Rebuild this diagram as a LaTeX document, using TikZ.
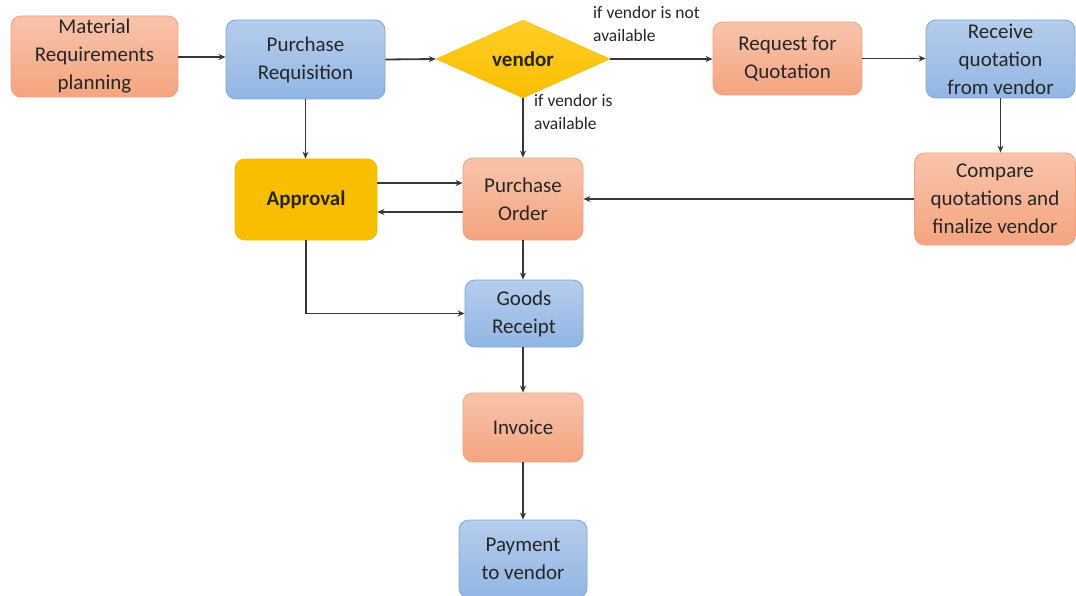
\documentclass[tikz,border=0pt]{standalone}
\usepackage{fontspec}
\setmainfont{Carlito}
\usetikzlibrary{shapes.geometric,arrows.meta}
\definecolor{orT}{RGB}{248,196,172}
\definecolor{orB}{RGB}{244,164,128}
\definecolor{orD}{RGB}{242,160,125}
\definecolor{blT}{RGB}{182,205,236}
\definecolor{blB}{RGB}{145,182,228}
\definecolor{blD}{RGB}{125,165,218}
\definecolor{yeT}{RGB}{255,206,40}
\definecolor{yeB}{RGB}{250,190,0}
\definecolor{yeD}{RGB}{240,185,0}
\definecolor{lin}{RGB}{55,55,55}
\tikzset{
  x=1pt, y=-1pt,
  base/.style={rounded corners=10pt, line width=0.8pt, align=center, inner sep=0pt, font=\fontsize{21}{28}\selectfont, text=black!85},
  obox/.style={base, draw=orD, top color=orT, bottom color=orB},
  bbox/.style={base, draw=blD, top color=blT, bottom color=blB},
  ybox/.style={base, draw=yeD, fill=yeB, font=\fontsize{21}{28}\selectfont\bfseries},
  dia/.style={diamond, draw=yeD, top color=yeT, bottom color=yeB, inner sep=0pt, font=\fontsize{21}{28}\selectfont\bfseries, text=black!85},
  arr/.style={draw=lin, line width=1.8pt, -{Stealth[length=7pt,width=6pt]}},
  lbl/.style={font=\fontsize{17.5}{23}\selectfont, text=black!85, align=left, inner sep=0pt, anchor=north west}
}
\begin{document}
\begin{tikzpicture}
\useasboundingbox (0,0) rectangle (1076,596);
\node[obox, minimum width=167pt, minimum height=81pt] (mrp) at (94.5,56.5) {Material\\Requirements\\planning};
\node[bbox, minimum width=159pt, minimum height=79pt] (pr) at (305.5,59.5) {Purchase\\Requisition};
\node[dia, minimum width=174pt, minimum height=78pt] (ven) at (523,59) {vendor};
\node[obox, minimum width=149pt, minimum height=73pt] (rfq) at (787.5,58.5) {Request for\\Quotation};
\node[bbox, minimum width=149pt, minimum height=78pt] (rq) at (1000.5,59) {Receive\\quotation\\from vendor};
\node[obox, minimum width=161pt, minimum height=92pt] (cmp) at (995,199) {Compare\\quotations and\\finalize vendor};
\node[obox, minimum width=120pt, minimum height=82pt] (po) at (523,199) {Purchase\\Order};
\node[ybox, minimum width=142pt, minimum height=81pt] (ap) at (306,199.5) {Approval};
\node[bbox, minimum width=118pt, minimum height=67pt] (gr) at (524,313.5) {Goods\\Receipt};
\node[obox, minimum width=120pt, minimum height=69pt] (inv) at (523,427.5) {Invoice};
\node[bbox, minimum width=128pt, minimum height=78pt] (pay) at (523,559) {Payment\\to vendor};
\node[lbl] (l1) at (593,6) {if vendor is not\\available};
\node[lbl] (l2) at (534,94) {if vendor is\\available};
\draw[arr] (mrp.east |- 0,57) -- (pr.west |- 0,57);
\draw[arr] (pr.east) -- (ven.west);
\draw[arr] (ven.east) -- (rfq.west |- ven.east);
\draw[arr] (rfq.east) -- (rq.west |- rfq.east);
\draw[arr] (rq.south) -- (rq.south |- cmp.north);
\draw[arr] (cmp.west) -- (po.east);
\draw[arr] (ven.south) -- (po.north);
\draw[arr] (pr.south) -- (pr.south |- ap.north);
\draw[arr] (ap.east |- 0,183) -- (po.west |- 0,183);
\draw[arr] (po.west |- 0,212) -- (ap.east |- 0,212);
\draw[arr] (po.south) -- (po.south |- gr.north);
\draw[arr] (ap.south) |- (gr.west);
\draw[arr] (gr.south -| inv.north) -- (inv.north);
\draw[arr] (inv.south) -- (pay.north);
\end{tikzpicture}
\end{document}
